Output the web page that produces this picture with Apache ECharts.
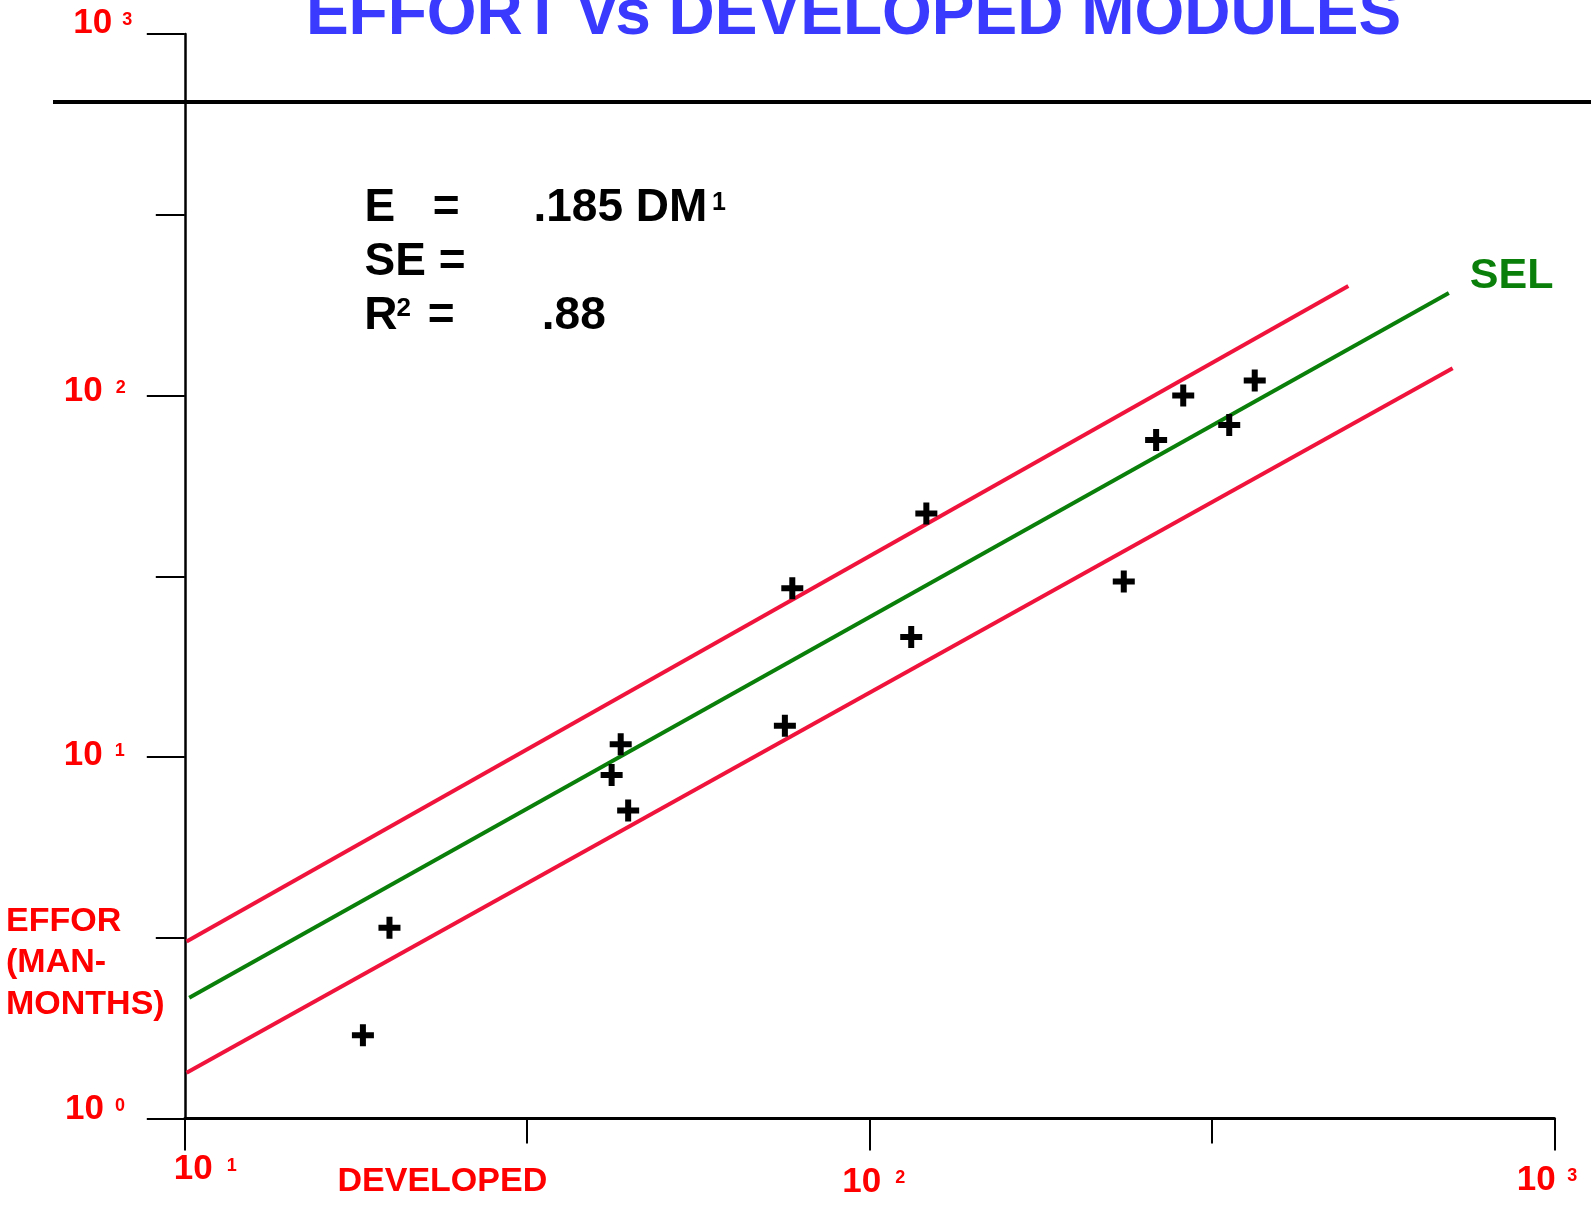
<!DOCTYPE html>
<html>
<head>
<meta charset="utf-8">
<title>Effort vs Developed Modules</title>
<script src="https://cdn.jsdelivr.net/npm/echarts@6/dist/echarts.min.js"></script>
<style>
  html, body { margin: 0; padding: 0; background: #ffffff; }
  #chart { width: 1591px; height: 1207px; }
</style>
</head>
<body>
<div id="chart"></div>
<script>
// Developed modules (DM) and effort (E, man-months) for each project
const modules = [18.2, 19.9, 42.0, 43.3, 44.4, 75.2, 77.1, 115, 121, 235, 262, 287, 335, 365];
const effort  = [1.70, 3.37, 8.92, 10.85, 7.11, 12.2, 29.3, 21.5, 47.2, 30.6, 75.3, 100, 82.9, 110];

// SEL fitted line and the upper / lower band lines (end points)
const selModules   = [10.15, 701];
const selEffort    = [2.16, 192];
const upperModules = [10.06, 500];
const upperEffort  = [3.09, 201];
const lowerModules = [10.06, 710];
const lowerEffort  = [1.34, 119];

// Decade tick labels (base 10 with exponent)
const xTickValues    = [10, 100, 1000];
const xTickExponents = ['1', '2', '3'];
const yTickValues    = [1, 10, 100, 1000];
const yTickExponents = ['0', '1', '2', '3'];

// Regression summary lines
const fitEquation = ['E', '=', '.185 DM', '1'];
const fitError    = ['SE ='];
const fitR2       = ['R', '2', '=', '.88'];

const FONT  = '"Liberation Sans", Arial, Helvetica, sans-serif';
const RED   = '#ff0000';
const BAND  = '#f0143c';
const GREEN = '#0a800a';
const BLUE  = '#3a3aff';
const PLUS  = 'path://M8,0H14V8H22V14H14V22H8V14H0V8H8Z';

const pairs = (xs, ys) => xs.map((x, i) => [x, ys[i]]);

function text(x, y, str, size, color, align) {
  return {
    type: 'text', x: x, y: y, silent: true,
    style: {
      text: str, fill: color,
      fontSize: size, fontWeight: 'bold', fontFamily: FONT,
      align: align || 'left', verticalAlign: 'middle',
      textAlign: align || 'left', textVerticalAlign: 'middle'
    }
  };
}

const chart = echarts.init(document.getElementById('chart'), null, { renderer: 'canvas' });

const tickLine = { color: '#000', width: 2 };

const option = {
  animation: false,
  backgroundColor: '#ffffff',
  grid: { left: 184.8, top: 34, width: 1369.7, height: 1084.6, containLabel: false, outerBoundsMode: 'none' },
  xAxis: [
    {
      type: 'log', logBase: 10, min: 10, max: 1000, position: 'bottom',
      axisLine: { show: true, onZero: false, lineStyle: { color: '#000', width: 3 } },
      axisTick: { show: true, inside: false, length: 32, lineStyle: tickLine },
      axisLabel: { show: false }, splitLine: { show: false }
    },
    {
      // half-decade ticks
      type: 'value', min: 1, max: 3, interval: 0.5, position: 'bottom',
      axisLine: { show: false, onZero: false },
      axisTick: { show: true, inside: false, length: 25, lineStyle: tickLine },
      axisLabel: { show: false }, splitLine: { show: false }
    }
  ],
  yAxis: [
    {
      type: 'log', logBase: 10, min: 1, max: 1000, position: 'left',
      axisLine: { show: true, onZero: false, lineStyle: { color: '#000', width: 2.5 } },
      axisTick: { show: true, inside: false, length: 38, lineStyle: tickLine },
      axisLabel: { show: false }, splitLine: { show: false }
    },
    {
      // half-decade ticks
      type: 'value', min: 0, max: 3, interval: 0.5, position: 'left',
      axisLine: { show: false, onZero: false },
      axisTick: { show: true, inside: false, length: 29, lineStyle: tickLine },
      axisLabel: { show: false }, splitLine: { show: false }
    }
  ],
  series: [
    {
      name: 'Upper band', type: 'line', xAxisIndex: 0, yAxisIndex: 0,
      data: pairs(upperModules, upperEffort), showSymbol: false, symbol: 'none',
      lineStyle: { color: BAND, width: 4 }, z: 2, silent: true
    },
    {
      name: 'SEL', type: 'line', xAxisIndex: 0, yAxisIndex: 0,
      data: pairs(selModules, selEffort), showSymbol: false, symbol: 'none',
      lineStyle: { color: GREEN, width: 4 }, z: 2, silent: true,
      endLabel: {
        show: true, formatter: 'SEL', distance: 21, offset: [0, -17],
        color: GREEN, fontSize: 43, fontWeight: 'bold', fontFamily: FONT
      }
    },
    {
      name: 'Lower band', type: 'line', xAxisIndex: 0, yAxisIndex: 0,
      data: pairs(lowerModules, lowerEffort), showSymbol: false, symbol: 'none',
      lineStyle: { color: BAND, width: 4 }, z: 2, silent: true
    },
    {
      name: 'Projects', type: 'scatter', xAxisIndex: 0, yAxisIndex: 0,
      data: pairs(modules, effort), symbol: PLUS, symbolSize: 22, symbolKeepAspect: true,
      itemStyle: { color: '#000', opacity: 1 }, z: 5, silent: true
    }
  ]
};

chart.setOption(option);

// Tick label placement around each decade tick: [dx of "10" right edge, dy of centre, exponent gap]
const xLabelLayout = [[28, 51, 14], [11.5, 63.4, 14], [1.3, 61.6, 11.5]];
const yLabelLayout = [[-80.8, -9.4, 11], [-82, -2.1, 12], [-82, -3.8, 13], [-72.5, -10.6, 10]];

const x0 = chart.convertToPixel({ xAxisIndex: 0 }, xTickValues[0]);
const y0 = chart.convertToPixel({ yAxisIndex: 0 }, yTickValues[0]);

const graphics = [];

// Title and its rule
graphics.push(text(853.5, 16.5, 'EFFORT vs DEVELOPED MODULES', 64, BLUE, 'center'));
graphics.push({
  type: 'line', silent: true,
  shape: { x1: 53, y1: 102, x2: 1591, y2: 102 },
  style: { stroke: '#000', lineWidth: 4 }
});

// Decade labels on the x axis
xTickValues.forEach((v, i) => {
  const px = chart.convertToPixel({ xAxisIndex: 0 }, v);
  const [dx, dy, gap] = xLabelLayout[i];
  const right = px + dx;
  graphics.push(text(right, y0 + dy, '10', 35, RED, 'right'));
  graphics.push(text(right + gap, y0 + dy - 3.8, xTickExponents[i], 18, RED, 'left'));
});

// Decade labels on the y axis
yTickValues.forEach((v, i) => {
  const py = chart.convertToPixel({ yAxisIndex: 0 }, v);
  const [dx, dy, gap] = yLabelLayout[i];
  const right = x0 + dx;
  graphics.push(text(right, py + dy, '10', 35, RED, 'right'));
  graphics.push(text(right + gap, py + dy - 3.5, yTickExponents[i], 18, RED, 'left'));
});

// Axis names
graphics.push(text(337.5, 1181.7, 'DEVELOPED', 34, RED, 'left'));
graphics.push(text(6, 921.3, 'EFFOR', 34, RED, 'left'));
graphics.push(text(6, 962.6, '(MAN-', 34, RED, 'left'));
graphics.push(text(6, 1004.2, 'MONTHS)', 34, RED, 'left'));

// Regression summary
graphics.push(text(364.5, 208.3, fitEquation[0], 46, '#000', 'left'));
graphics.push(text(432.7, 208.3, fitEquation[1], 46, '#000', 'left'));
graphics.push(text(533.5, 208.3, fitEquation[2], 46, '#000', 'left'));
graphics.push(text(712, 203, fitEquation[3], 25, '#000', 'left'));
graphics.push(text(364.5, 262, fitError[0], 46, '#000', 'left'));
graphics.push(text(364.3, 316.7, fitR2[0], 46, '#000', 'left'));
graphics.push(text(396.6, 309.2, fitR2[1], 26, '#000', 'left'));
graphics.push(text(427.7, 316.7, fitR2[2], 46, '#000', 'left'));
graphics.push(text(541.8, 316.7, fitR2[3], 46, '#000', 'left'));

chart.setOption({ graphic: { elements: graphics } });
</script>
</body>
</html>
